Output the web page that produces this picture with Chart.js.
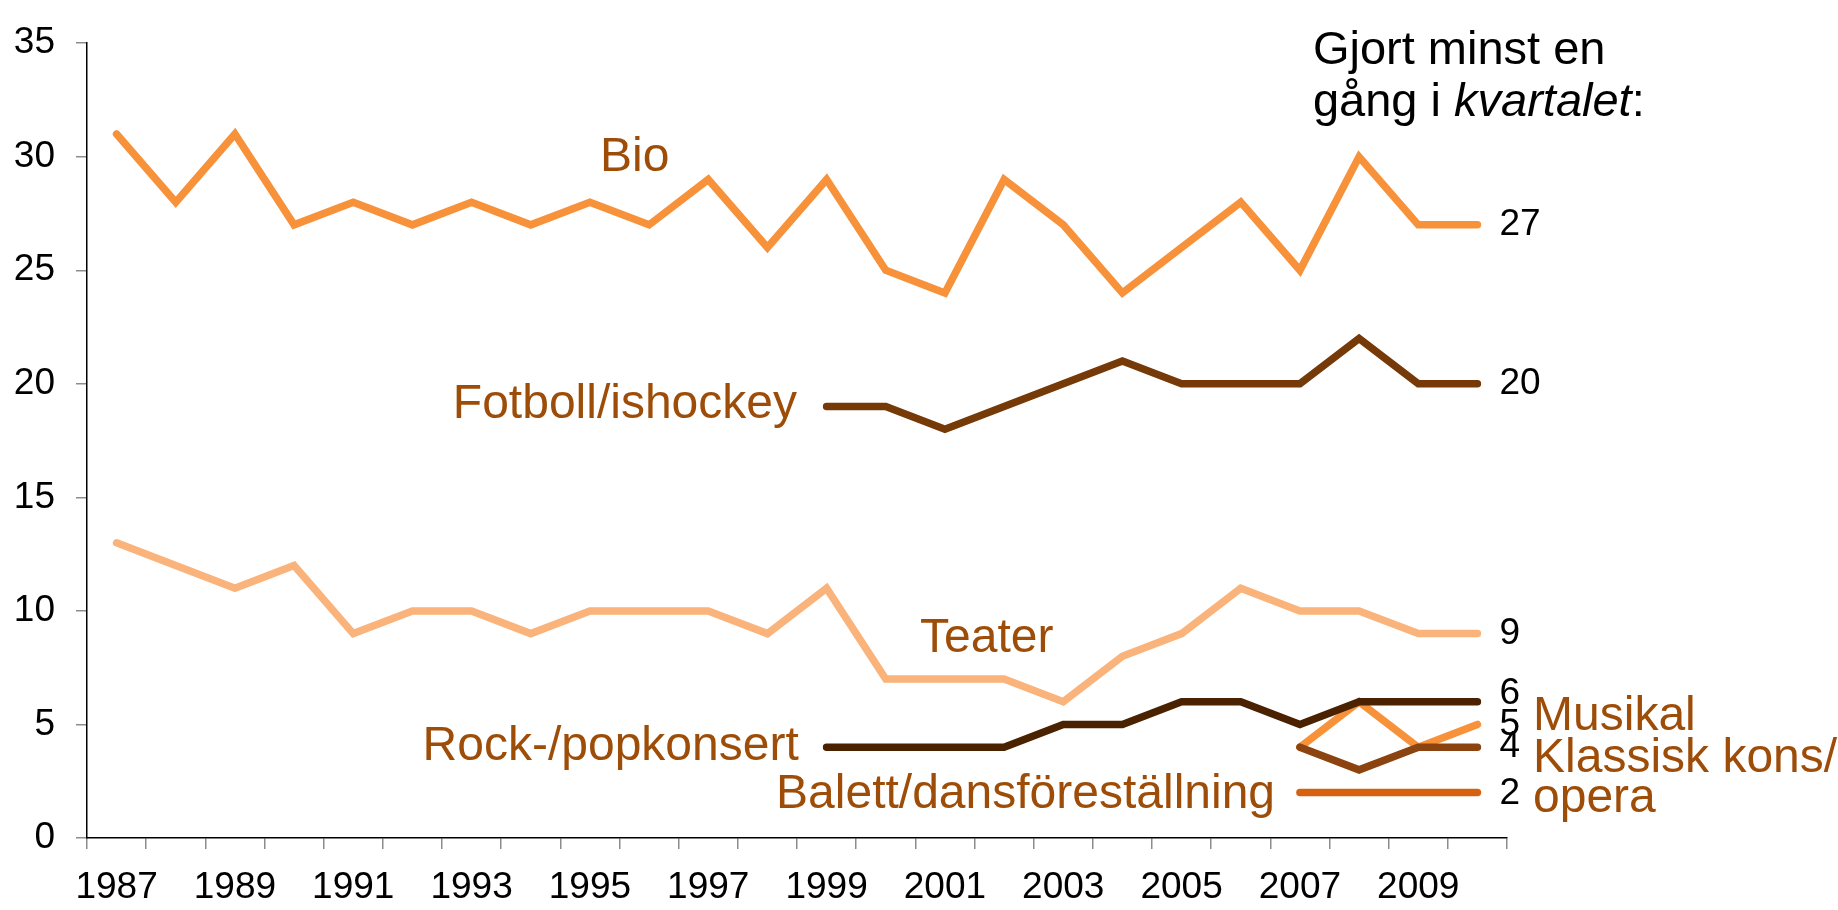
<!DOCTYPE html>
<html>
<head>
<meta charset="utf-8">
<script src="https://cdn.jsdelivr.net/npm/chart.js@4.4.1/dist/chart.umd.min.js"></script>
<style>
html,body{margin:0;padding:0;background:#fff;}
#wrap{width:1838px;height:910px;position:relative;}
canvas{display:block;}
</style>
</head>
<body>
<div id="wrap"><canvas id="c" width="1838" height="910"></canvas></div>
<script>
// ---- Data ----
const years = ['1987','1988','1989','1990','1991','1992','1993','1994','1995','1996','1997','1998',
               '1999','2000','2001','2002','2003','2004','2005','2006','2007','2008','2009','2010'];
const tickLabels = ['1987','1989','1991','1993','1995','1997','1999','2001','2003','2005','2007','2009'];
const yTicks = [0,5,10,15,20,25,30,35];

const bio      = [31,28,31,27,28,27,28,27,28,27,29,26,29,25,24,29,27,24,26,28,25,30,27,27];
const fotboll  = [null,null,null,null,null,null,null,null,null,null,null,null,19,19,18,19,20,21,20,20,20,22,20,20];
const teater   = [13,12,11,12,9,10,10,9,10,10,10,9,11,7,7,7,6,8,9,11,10,10,9,9];
const rock     = [null,null,null,null,null,null,null,null,null,null,null,null,4,4,4,4,5,5,6,6,5,6,6,6];
const musikal  = [null,null,null,null,null,null,null,null,null,null,null,null,null,null,null,null,null,null,null,null,4,6,4,5];
const klassisk = [null,null,null,null,null,null,null,null,null,null,null,null,null,null,null,null,null,null,null,null,4,3,4,4];
const balett   = [null,null,null,null,null,null,null,null,null,null,null,null,null,null,null,null,null,null,null,null,2,2,2,2];

const seriesNames = ['Bio','Fotboll/ishockey','Teater','Rock-/popkonsert','Musikal','Klassisk kons/opera','Balett/dansföreställning'];
const titleLine1 = 'Gjort minst en';
const titleLine2 = ['gång i ', 'kvartalet', ':'];

// ---- Styling ----
const FONT = '"Liberation Sans", Arial, Helvetica, sans-serif';
const LABEL_COLOR = '#9E4D08';
const colors = {
  bio: '#F7913A', fotboll: '#763A08', teater: '#FAB37A', rock: '#4A2200',
  musikal: '#F7913A', klassisk: '#8B4410', balett: '#D6620F'
};

// annotation placement (category index, value) in data space
const labelPlacement = [
  {text:'Bio', i:8.17, v:29.39, align:'left'},
  {text:'Fotboll/ishockey', i:11.5, v:18.5, align:'right'},
  {text:'Teater', i:13.58, v:8.18, align:'left'},
  {text:'Rock-/popkonsert', i:11.53, v:3.44, align:'right'},
  {text:'Balett/dansföreställning', i:19.58, v:1.31, align:'right'},
  {text:'Musikal', i:23.94, v:4.75, align:'left'},
  {text:'Klassisk kons/', i:23.94, v:2.92, align:'left'},
  {text:'opera', i:23.94, v:1.13, align:'left'}
];
const endLabelNudge = [0, 0, 0, 0.35, 0, 0, -0.05];

function ds(label, data, color, order) {
  return {
    label, data, borderColor: color, backgroundColor: color,
    borderWidth: 7.5, pointRadius: 0, pointHoverRadius: 0, tension: 0,
    borderCapStyle: 'round', borderJoinStyle: 'miter', spanGaps: false, fill: false, order
  };
}

const annotPlugin = {
  id: 'annot',
  afterDatasetsDraw(chart) {
    const ctx = chart.ctx;
    const xs = chart.scales.x, ys = chart.scales.y;
    ctx.save();
    // series labels
    ctx.font = '48px ' + FONT;
    ctx.fillStyle = LABEL_COLOR;
    ctx.textBaseline = 'alphabetic';
    labelPlacement.forEach(l => {
      ctx.textAlign = l.align;
      ctx.fillText(l.text, xs.getPixelForValue(l.i), ys.getPixelForValue(l.v));
    });
    // end value labels
    ctx.font = '37px ' + FONT;
    ctx.fillStyle = '#000';
    ctx.textAlign = 'left';
    ctx.textBaseline = 'middle';
    chart.data.datasets.forEach((d, k) => {
      const n = d.data.length - 1;
      const val = d.data[n];
      const x = xs.getPixelForValue(n) + 22;
      const y = ys.getPixelForValue(val + endLabelNudge[k]);
      ctx.fillText(String(val), x, y);
    });
    // title
    ctx.textBaseline = 'alphabetic';
    ctx.fillStyle = '#000';
    const tx = xs.getPixelForValue(20.22);
    ctx.font = '47px ' + FONT;
    ctx.fillText(titleLine1, tx, ys.getPixelForValue(34.09));
    let x = tx;
    const y2 = ys.getPixelForValue(31.78);
    titleLine2.forEach((seg, idx) => {
      ctx.font = (idx === 1 ? 'italic ' : '') + '47px ' + FONT;
      ctx.fillText(seg, x, y2);
      x += ctx.measureText(seg).width;
    });
    ctx.restore();
  }
};

new Chart(document.getElementById('c'), {
  type: 'line',
  data: {
    labels: years,
    datasets: [
      ds(seriesNames[0], bio, colors.bio, 1),
      ds(seriesNames[1], fotboll, colors.fotboll, 1),
      ds(seriesNames[2], teater, colors.teater, 2),
      ds(seriesNames[3], rock, colors.rock, 1),
      ds(seriesNames[4], musikal, colors.musikal, 4),
      ds(seriesNames[5], klassisk, colors.klassisk, 3),
      ds(seriesNames[6], balett, colors.balett, 3)
    ]
  },
  options: {
    responsive: false,
    animation: false,
    devicePixelRatio: 1,
    layout: { padding: { left: 0, right: 331, top: 34, bottom: 0 } },
    plugins: { legend: { display: false }, tooltip: { enabled: false }, title: { display: false } },
    scales: {
      x: {
        type: 'category',
        offset: true,
        grid: { offset: true, drawOnChartArea: false, drawTicks: true, tickLength: 11, color: '#8c8c8c', lineWidth: 1.5 },
        border: { display: true, color: '#000', width: 1.5 },
        ticks: {
          autoSkip: false, maxRotation: 0, minRotation: 0, padding: 17,
          color: '#000', font: { family: FONT, size: 37 },
          callback: function(val) { const l = this.getLabelForValue(val); return tickLabels.includes(l) ? l : ''; }
        },
        afterFit: s => { s.height = 72; }
      },
      y: {
        min: 0, max: 35,
        afterBuildTicks: s => { s.ticks = yTicks.map(v => ({ value: v })); },
        grid: { drawOnChartArea: false, drawTicks: true, tickLength: 11, color: '#8c8c8c', lineWidth: 1.5 },
        border: { display: true, color: '#000', width: 1.5 },
        ticks: { padding: 21, color: '#000', font: { family: FONT, size: 37 } },
        afterFit: s => { s.width = 87; }
      }
    }
  },
  plugins: [annotPlugin]
});
</script>
</body>
</html>
